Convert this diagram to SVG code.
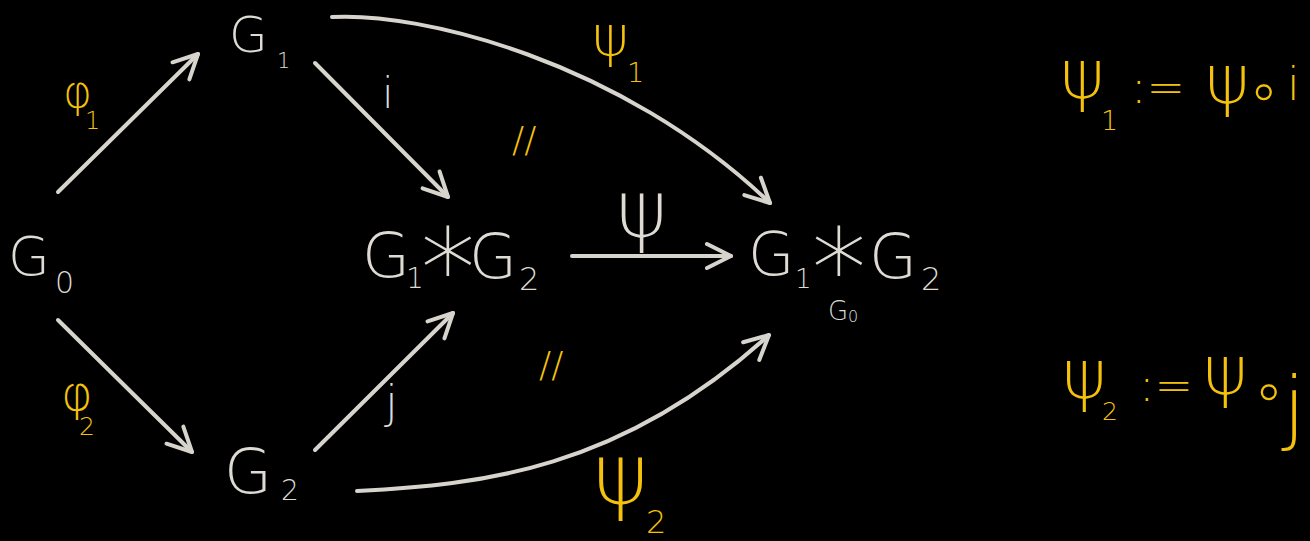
<svg xmlns="http://www.w3.org/2000/svg" width="1310" height="541" viewBox="0 0 1310 541">
<defs>
<style>
text{font-family:"DejaVu Sans","Liberation Sans",sans-serif;font-weight:200}
.w{fill:#dddbd4}
.y{fill:#f4c20c}
.c{stroke:#d6d4cd;stroke-width:4;fill:none;stroke-linecap:round}
</style>
<marker id="a" viewBox="-30 -16 34 32" markerWidth="34" markerHeight="32" refX="0" refY="0" orient="auto" markerUnits="userSpaceOnUse">
<path d="M-24,-12 L0,0 L-24,12" fill="none" stroke="#d6d4cd" stroke-width="4" stroke-linecap="round" stroke-linejoin="round"/>
</marker>
</defs>
<rect width="1310" height="541" fill="#000"/>

<g id="connectors">
<path class="c" d="M58,192 L198,54" marker-end="url(#a)"/>
<path class="c" d="M58,320 L192,452" marker-end="url(#a)"/>
<path class="c" d="M315,63 L448,197" marker-end="url(#a)"/>
<path class="c" d="M315,450 L453,313" marker-end="url(#a)"/>
<path class="c" d="M572,256 L731,256" marker-end="url(#a)"/>
<path class="c" d="M332,17 C420,12 620,60 770,203" marker-end="url(#a)"/>
<path class="c" d="M357,491 C480,485 620,470 769,335" marker-end="url(#a)"/>
</g>

<g id="edge-labels">
<text class="y" x="63" y="107" font-size="44">φ</text>
<text class="y" x="85" y="129" font-size="24">1</text>
<text class="y" x="61" y="410" font-size="48">φ</text>
<text class="y" x="79" y="435" font-size="25">2</text>
<text class="w" x="382" y="108" font-size="42">i</text>
<text class="w" x="385" y="418" font-size="46">j</text>
<text class="w" x="616" y="237" font-size="78">ψ</text>
<text class="y" x="592" y="55" font-size="56">ψ</text>
<text class="y" x="627" y="82" font-size="27">1</text>
<text class="y" x="593" y="504" font-size="84">ψ</text>
<text class="y" x="646" y="533" font-size="32">2</text>
<text class="y" x="512" y="152" font-size="36">//</text>
<text class="y" x="539" y="377" font-size="36">//</text>
</g>

<g id="G0">
<text class="w" x="8" y="275" font-size="54">G</text>
<text class="w" x="55" y="293" font-size="30">0</text>
</g>
<g id="G1">
<text class="w" x="229" y="52" font-size="50">G</text>
<text class="w" x="277" y="68" font-size="21">1</text>
</g>
<g id="G2">
<text class="w" x="224" y="493" font-size="62">G</text>
<text class="w" x="281" y="500" font-size="28">2</text>
</g>
<g id="free-product">
<text class="w" x="362" y="277" font-size="62">G</text>
<text class="w" x="406" y="288" font-size="28">1</text>
<text class="w" x="448" y="308" font-size="110" text-anchor="middle">*</text>
<text class="w" x="469" y="278" font-size="62">G</text>
<text class="w" x="519" y="290" font-size="32">2</text>
</g>
<g id="amalgamated-product">
<text class="w" x="748" y="275" font-size="60">G</text>
<text class="w" x="795" y="288" font-size="26">1</text>
<text class="w" x="839" y="308" font-size="110" text-anchor="middle">*</text>
<text class="w" x="869" y="278" font-size="62">G</text>
<text class="w" x="921" y="290" font-size="32">2</text>
<text class="w" x="828" y="320" font-size="26">G</text>
<text class="w" x="848" y="322" font-size="16">0</text>
</g>

<g id="eq1">
<text class="y" x="1060" y="98" font-size="68">ψ</text>
<text class="y" x="1101" y="130" font-size="27">1</text>
<text class="y" x="1131" y="103" font-size="46">:=</text>
<text class="y" x="1205" y="103" font-size="68">ψ</text>
<text class="y" x="1245" y="111" font-size="60">∘</text>
<text class="y" x="1287" y="100" font-size="46">i</text>
</g>
<g id="eq2">
<text class="y" x="1062" y="398" font-size="68">ψ</text>
<text class="y" x="1102" y="420" font-size="25">2</text>
<text class="y" x="1139" y="401" font-size="46">:=</text>
<text class="y" x="1203" y="394" font-size="68">ψ</text>
<text class="y" x="1250" y="411" font-size="60">∘</text>
<text class="y" x="1283" y="434" font-size="80">j</text>
</g>
</svg>
